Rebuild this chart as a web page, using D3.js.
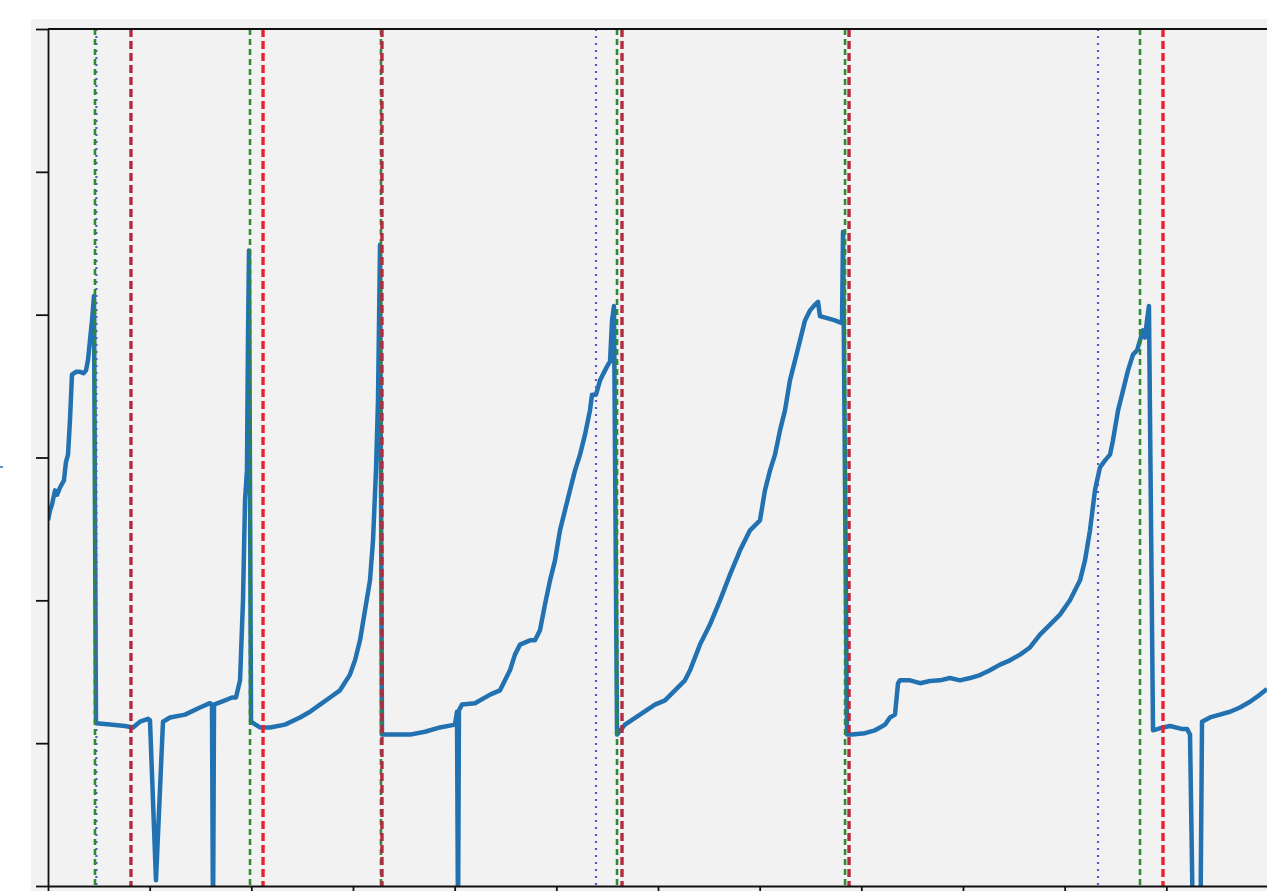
<!DOCTYPE html>
<html>
<head>
<meta charset="utf-8" />
<script src="https://cdn.jsdelivr.net/npm/d3@7"></script>
<style>
    html, body { margin: 0; padding: 0; background: #ffffff; overflow: hidden; }
    svg { display: block; }
</style>
</head>
<body>
<svg id="chart"></svg>
<script>
// signal trace (x in time units, y in value units)
const traceX = [
    0, 2, 3.9, 6.9, 9, 11.8, 15.7, 17.7, 19.7, 21.6, 23.6, 27.5, 31.5, 35, 37.4, 39.3, 41.3, 43.3, 45.2,
    47.2, 61, 75.7, 83.6, 90.5, 98.4, 100.3, 106.2, 113.1, 120, 134.8, 149.5, 159.3, 161.3, 162.3, 163.3,
    174.1, 181, 184.9, 188.9, 191.8, 193.8, 195.7, 196.7, 197.7,
    199.7, 208.5, 218.4, 233.1, 247.9, 257.7, 267.5, 277.4, 287.2, 297, 302, 306.9, 311.8, 316.7, 319.7,
    322.6, 324.6, 326.6,
    328.5, 341.3, 356.1, 370.8, 385.6, 400.3, 402.3, 403.3, 404.2, 407.2, 420, 434.8, 444.6, 454.4, 459.3,
    464.3, 474.1, 479, 483.9, 488.8, 493.8, 498.7, 503.6, 508.5, 513.4, 518.4, 523.3, 528.2, 533.1, 535.1,
    539, 543, 547.9, 550.8, 552.8, 554.8, 556.7,
    559.7, 567.5, 582.3, 597, 606.9, 616.7, 626.5, 631.5, 641.3, 651.1, 661, 670.8, 680.7, 690.5, 700.3,
    705.2, 710.2, 715.1, 720, 724.9, 729.8, 734.8, 739.7, 744.6, 749.5, 754.4, 757.4, 759.3, 774.1, 781, 782,
    785.9, 790.9, 803.6, 813.4, 818.4, 823.3, 828.2, 833.1, 836.1, 838, 847.9, 857.7, 867.5, 877.4, 887.2,
    897, 906.9, 916.7, 926.5, 936.4, 946.2, 956.1, 965.9, 975.7, 985.6, 995.4, 1005.2, 1015.1, 1020, 1024.9,
    1029.8, 1034.7, 1039.7, 1044.6, 1047.5, 1052.5, 1056.4, 1062.3, 1067.2, 1071.2, 1074.1, 1077, 1079, 1081,
    1082.9,
    1086.9, 1096.7, 1103.6, 1115, 1120.3, 1123.3, 1126.2, 1133.5, 1135.1, 1142.9, 1152.7, 1162.6, 1172.4,
    1182.3, 1192.2, 1199
];
const traceY = [
    25.6, 26.3, 26.7, 27.7, 27.4, 27.9, 28.4, 29.7, 30.2, 32.6, 35.8, 36.0, 36.0, 35.9, 36.1, 36.8, 38.2, 39.6, 41.3,
    11.4, 11.3, 11.2, 11.1, 11.5, 11.7, 11.6, 0.4, 11.5, 11.8, 12.0, 12.5, 12.8, 12.7, -3, 12.7,
    13.0, 13.2, 13.2, 14.4, 20.0, 27.0, 29.1, 38.2, 44.5,
    11.5, 11.1, 11.1, 11.3, 11.8, 12.2, 12.7, 13.2, 13.7, 14.8, 15.8, 17.2, 19.3, 21.4, 24.2,
    29.1, 34.0, 44.9,
    10.6, 10.6, 10.6, 10.8, 11.1, 11.3, 12.2, -3, 12.3, 12.7, 12.8, 13.4, 13.7, 15.1, 16.2,
    16.9, 17.2, 17.2, 17.9, 19.7, 21.4, 22.8, 24.9, 26.3, 27.7, 29.1, 30.2, 31.6, 33.3, 34.4,
    34.4, 35.4, 36.1, 36.5, 36.7, 39.6, 40.6,
    10.6, 11.3, 12.0, 12.7, 13.0, 13.7, 14.4, 15.1, 16.9, 18.3, 20.0, 21.8, 23.5, 24.9, 25.6,
    27.7, 29.1, 30.2, 31.9, 33.3, 35.4, 36.8, 38.2, 39.6, 40.3, 40.7, 40.9, 39.9, 39.6, 39.4, 45.8,
    10.6, 10.6, 10.7, 10.9, 11.1, 11.3, 11.8, 12.0, 14.2, 14.4, 14.4, 14.2, 14.35, 14.4, 14.56,
    14.4, 14.56, 14.77, 15.1, 15.5, 15.8, 16.2, 16.7, 17.6, 18.3, 19.0, 20.0, 21.4, 22.8, 24.9,
    27.7, 29.3, 29.8, 30.2, 31.2, 33.3, 34.4, 36.1, 37.2, 37.5, 38.2, 38.9, 38.4, 39.6,
    40.6,
    10.9, 11.1, 11.2, 11.0, 11.0, 10.6, -3, -3, 11.5, 11.8, 12.0, 12.2, 12.5,
    12.9, 13.4, 13.8
];

// event markers (time units)
const greenEvents = [46.2, 198.7, 327.5, 559.7, 784.0, 1074.1];
const redEvents = [211.5, 1096.7];
const darkRedEvents = [81.6, 328.5, 564.6, 787.9];
const blueEvents = [47.6, 539.0, 1032.8];

const xTicks = d3.range(0, 1201, 100);
const yTicks = d3.range(0, 61, 10);

const width = 1267;
const height = 891;

const svg = d3.select("#chart").attr("width", width).attr("height", height);

const x = d3.scaleLinear().domain([0, 1200]).range([48, 1268]);
const y = d3.scaleLinear().domain([0, 60]).range([886, 29]);

svg.append("rect")
    .attr("x", 31)
    .attr("y", 19)
    .attr("width", width - 31)
    .attr("height", height - 19)
    .attr("fill", "#f2f2f3");

svg.append("defs")
    .append("clipPath")
    .attr("id", "plot-clip")
    .append("rect")
    .attr("x", x(0))
    .attr("y", y(60))
    .attr("width", x(1200) - x(0))
    .attr("height", y(0) - y(60));

const plot = svg.append("g").attr("clip-path", "url(#plot-clip)");

const trace = traceX.map((d, i) => [d, traceY[i]]);

plot.append("path")
    .datum(trace)
    .attr("fill", "none")
    .attr("stroke", "#2271b1")
    .attr("stroke-width", 4.5)
    .attr("stroke-linejoin", "round")
    .attr("d", d3.line().x((d) => x(d[0])).y((d) => y(d[1])));

function vlines(data, color, widthPx, dash) {
    plot.selectAll(null)
        .data(data)
        .enter()
        .append("line")
        .attr("x1", (d) => x(d))
        .attr("x2", (d) => x(d))
        .attr("y1", y(60))
        .attr("y2", y(0))
        .attr("stroke", color)
        .attr("stroke-width", widthPx)
        .attr("stroke-dasharray", dash);
}

vlines(blueEvents, "#5858cc", 2.2, "2,5");
vlines(greenEvents, "#2f8a35", 2.6, "6,4");
vlines(redEvents, "#ee1f30", 3.4, "8,4");
vlines(darkRedEvents, "#b42a40", 3.4, "8,4");

// axes, no labels (cropped in the original)
svg.append("g")
    .attr("transform", `translate(${x(0)},0)`)
    .call(d3.axisLeft(y).tickValues(yTicks).tickSize(12).tickSizeOuter(0).tickFormat(""))
    .call((g) => g.selectAll("line, path").attr("stroke", "#111").attr("stroke-width", 1.8));

svg.append("g")
    .attr("transform", `translate(0,${y(0)})`)
    .call(d3.axisBottom(x).tickValues(xTicks).tickSize(6).tickSizeOuter(0).tickFormat(""))
    .call((g) => g.selectAll("line, path").attr("stroke", "#111").attr("stroke-width", 1.8));

svg.append("line")
    .attr("x1", x(0))
    .attr("x2", width)
    .attr("y1", y(60))
    .attr("y2", y(60))
    .attr("stroke", "#111")
    .attr("stroke-width", 1.8);

// fragment of the cropped axis label
svg.append("line")
    .attr("x1", 0)
    .attr("x2", 3)
    .attr("y1", 467)
    .attr("y2", 467)
    .attr("stroke", "#1f72b4")
    .attr("stroke-width", 1.5);
</script>
</body>
</html>
